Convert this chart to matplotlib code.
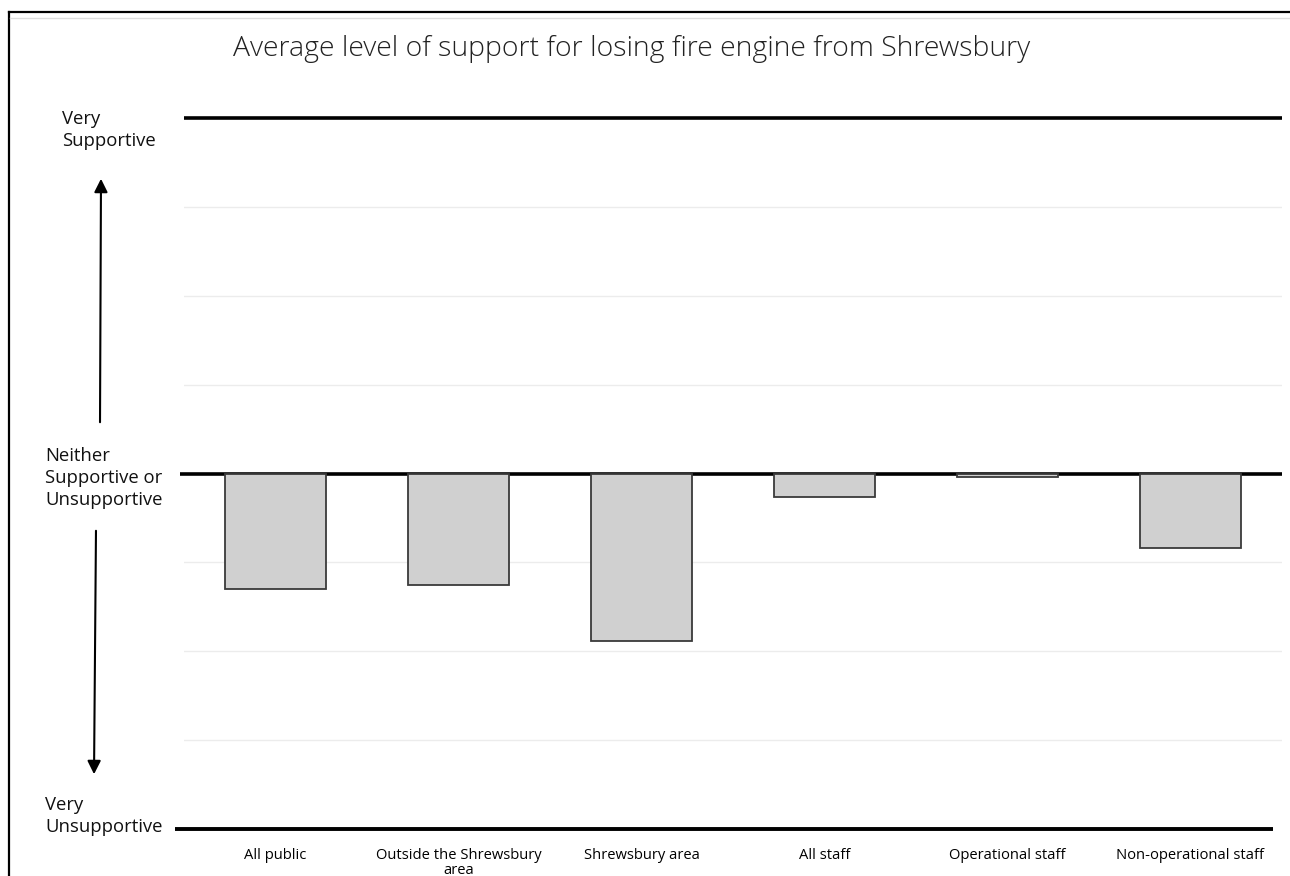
import matplotlib
matplotlib.use("Agg")
import matplotlib.pyplot as plt
from matplotlib.lines import Line2D
from matplotlib.patches import FancyArrowPatch

# Average support score per group (-2 = very unsupportive, +2 = very supportive)
groups = ["All public", "Outside the Shrewsbury\narea", "Shrewsbury area",
          "All staff", "Operational staff", "Non-operational staff"]
support = [-0.65, -0.63, -0.94, -0.13, -0.02, -0.42]

scale_labels = ["Very\nUnsupportive", "Neither\nSupportive or\nUnsupportive", "Very\nSupportive"]

title = "Average level of support for losing fire engine from Shrewsbury"

FONT = ["Open Sans", "DejaVu Sans"]

W, H = 1290, 876
fig = plt.figure(figsize=(W / 100, H / 100), dpi=100)
fig.patch.set_facecolor("white")


def fx(px):
    return px / W


def fy(py):
    return 1 - py / H


ax = fig.add_axes([fx(184), fy(829), fx(1282) - fx(184), fy(118) - fy(829)])
x = list(range(len(groups)))
ax.bar(x, support, width=0.557, color="#d0d0d0", edgecolor="#3a3a3a",
       linewidth=1.3, zorder=4)
ax.set_xlim(-0.5, len(groups) - 0.5)
ax.set_ylim(-2, 2)

# faint half-step gridlines
for g in [-1.5, -1, -0.5, 0.5, 1, 1.5]:
    ax.axhline(g, color="#ececec", linewidth=1, zorder=0)

# heavy reference lines at the scale end points and the midpoint
ax.plot([-0.5, 5.5], [2, 2], color="black", lw=2.6, clip_on=False, zorder=3,
        solid_capstyle="butt")
ax.plot([-0.52, 5.5], [0, 0], color="black", lw=2.6, clip_on=False, zorder=3,
        solid_capstyle="butt")
ax.plot([-0.55, 5.45], [-2, -2], color="black", lw=2.8, clip_on=False, zorder=3,
        solid_capstyle="butt")

for s in ax.spines.values():
    s.set_visible(False)
ax.set_yticks([])
ax.set_xticks(x)
ax.set_xticklabels(groups, fontsize=10.6, family=FONT, linespacing=1.0)
ax.tick_params(axis="x", length=0, pad=14)

# title
fig.text(fx(632), fy(49), title, ha="center", va="center", fontsize=20.4,
         family=FONT, fontweight="light", color="#222222")

# scale labels on the left
lab_font = dict(fontsize=13.3, family=FONT, color="#111111",
                ha="left", va="center", linespacing=1.3)
fig.text(fx(45), fy(816), scale_labels[0], **lab_font)
fig.text(fx(45), fy(478), scale_labels[1], **lab_font)
fig.text(fx(62), fy(130), scale_labels[2], **lab_font)

# direction arrows
for start, end in [((100, 425), (101, 176)), ((96, 528), (94, 777))]:
    fig.add_artist(FancyArrowPatch(
        (fx(start[0]), fy(start[1])), (fx(end[0]), fy(end[1])),
        transform=fig.transFigure,
        arrowstyle="-|>,head_length=5,head_width=2.5", color="black", lw=1.5,
        mutation_scale=1.6))

# outer frame (left and top edges)
fig.add_artist(Line2D([fx(9), fx(9)], [fy(12), 0], transform=fig.transFigure,
                      color="black", lw=1.6))
fig.add_artist(Line2D([fx(9), 1], [fy(12), fy(12)], transform=fig.transFigure,
                      color="black", lw=1.6))
fig.add_artist(Line2D([fx(10), 1], [fy(18), fy(18)], transform=fig.transFigure,
                      color="#dddddd", lw=1))

fig.savefig("out.png", dpi=100, facecolor="white")
